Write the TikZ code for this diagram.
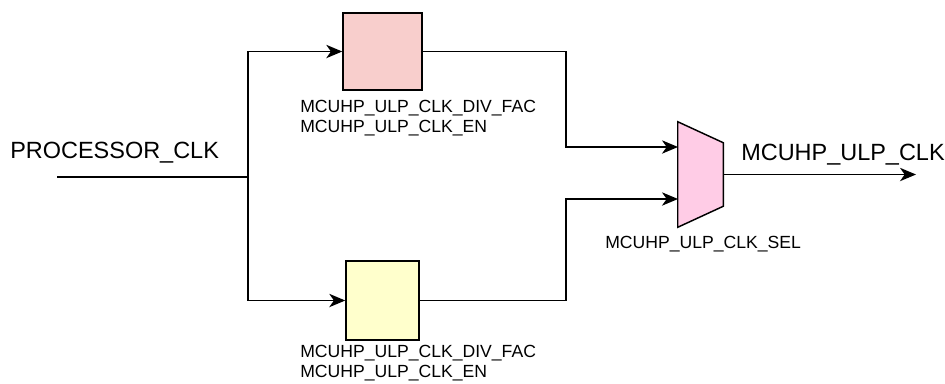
\documentclass[tikz,border=0pt]{standalone}
\usepackage{fontspec}
\setmainfont{Liberation Sans}
\usetikzlibrary{positioning,arrows.meta,calc}
\definecolor{divRed}{HTML}{F8CECC}
\definecolor{divYel}{HTML}{FFFFCC}
\definecolor{muxPink}{HTML}{FFCCE6}

\begin{document}
\begin{tikzpicture}[x=0.75pt, y=-0.75pt,
  div/.style={draw, line width=1.1pt, inner sep=0pt},
  lbl/.style={font=\fontsize{13.2}{15}\selectfont, align=left,
              anchor=north west, inner sep=0pt},
  sig/.style={font=\fontsize{17.6}{20}\selectfont, anchor=base west,
              inner sep=0pt},
  wire/.style={line width=1.1pt},
  arr/.style={wire, -{Stealth[length=12pt, width=10pt, inset=3.5pt]}}
]
\useasboundingbox (0,0) rectangle (945,383);
\node[div, fill=divRed, minimum width=59.25pt, minimum height=57.75pt] (DivA) at (382.5,51.5) {};
\node[div, fill=divYel, minimum width=54.75pt, minimum height=59.25pt] (DivB) at (382.5,300.5) {};
\node[minimum width=33.75pt, minimum height=78.75pt, inner sep=0pt] (Mux) at (700.5,174.5) {};
\draw[wire, fill=muxPink] (Mux.north west) -- ($(Mux.north east)+(0,21)$)
  -- ($(Mux.south east)+(0,-21)$) -- (Mux.south west) -- cycle;

\node[sig] (InLbl)  at (10,158)  {PROCESSOR\_CLK};
\node[sig] (OutLbl) at (741,160) {MCUHP\_ULP\_CLK};
\node[lbl] (LblA)   at (300,99.5)  {MCUHP\_ULP\_CLK\_DIV\_FAC\\MCUHP\_ULP\_CLK\_EN};
\node[lbl] (LblB)   at (300,344.5) {MCUHP\_ULP\_CLK\_DIV\_FAC\\MCUHP\_ULP\_CLK\_EN};
\node[lbl] (SelLbl) at (605,235.5) {MCUHP\_ULP\_CLK\_SEL};

\coordinate (In)     at (57,177);
\coordinate (Split)  at (248,177);
\coordinate (TurnA)  at (566,147);
\coordinate (TurnB)  at (566,199);
\coordinate (MuxInA) at (678,147);
\coordinate (MuxInB) at (678,199);
\coordinate (Out)    at (916,174.5);

\draw[wire] (In) -- (Split);
\draw[arr] (Split) |- (DivA);
\draw[arr] (Split) |- (DivB);
\draw[arr] (DivA) -| (TurnA) -- (MuxInA);
\draw[arr] (DivB) -| (TurnB) -- (MuxInB);
\draw[arr] (Mux) -- (Out);
\end{tikzpicture}
\end{document}
